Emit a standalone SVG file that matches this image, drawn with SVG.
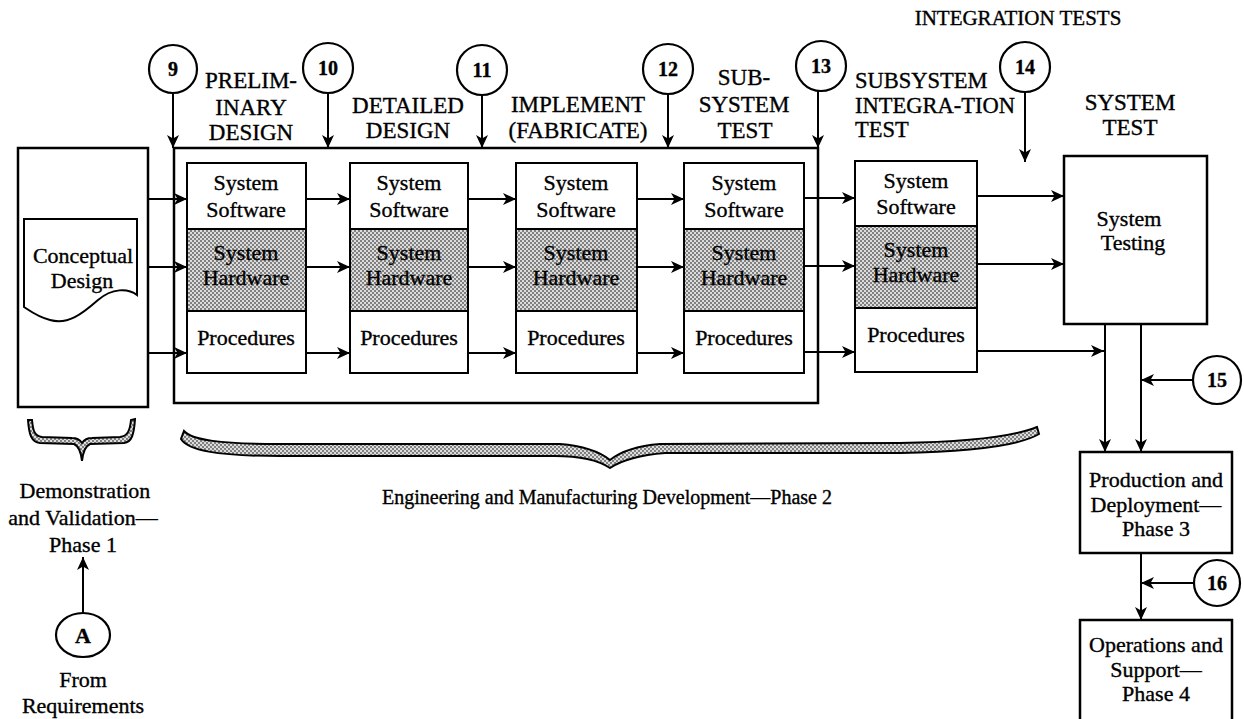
<svg xmlns="http://www.w3.org/2000/svg" width="1244" height="719" viewBox="0 0 1244 719">
<defs>
<pattern id="dots" width="4" height="4" patternUnits="userSpaceOnUse">
<rect width="4" height="4" fill="#dcdcdc"/>
<circle cx="1" cy="1" r="0.9" fill="#555"/>
<circle cx="3" cy="3" r="0.9" fill="#555"/>
</pattern>
<marker id="ah" markerWidth="14" markerHeight="12" refX="13" refY="6" orient="auto" markerUnits="userSpaceOnUse">
<path d="M0,0 L13,6 L0,12 L3.5,6 Z" fill="#000"/>
</marker>
</defs>
<style>
text{font-family:"Liberation Serif","Times New Roman",serif;fill:#000;stroke:#000;stroke-width:0.35}
.bx{font-size:22px;text-anchor:middle}
.hd{font-size:23px;text-anchor:middle}
.hl{font-size:23px}
.num{font-size:20px;font-weight:bold;text-anchor:middle}
.cell{fill:#fff;stroke:#000;stroke-width:2}
.hw{fill:url(#dots);stroke:#000;stroke-width:2}
.frame{fill:none;stroke:#000;stroke-width:2.5}
.circ{fill:#fff;stroke:#000;stroke-width:2.2}
.ln{fill:none;stroke:#000;stroke-width:2}
.arr{fill:none;stroke:#000;stroke-width:2;marker-end:url(#ah)}
.brace{fill:url(#dots);stroke:#000;stroke-width:2}
</style>
<rect width="1244" height="719" fill="#fff"/>

<!-- Frame around development stages -->
<rect id="devFrame" class="frame" x="174" y="148" width="644" height="255"/>

<g id="conceptual">
<rect class="frame" x="18" y="148" width="130" height="259"/>
<path class="ln" d="M24,219 H137 V295 C128,288 112,288 98,300 C82,314 68,325 50,320 C38,317 30,311 24,307 Z" fill="#fff"/>
<text class="bx" x="83" y="263">Conceptual</text>
<text class="bx" x="82" y="288">Design</text>
</g>

<g id="col1">
<rect class="cell" x="187" y="163" width="119" height="66"/>
<rect class="hw" x="187" y="229" width="119" height="82"/>
<rect class="cell" x="187" y="311" width="119" height="62"/>
<text class="bx" x="246" y="190">System</text><text class="bx" x="246" y="217">Software</text>
<text class="bx" x="246" y="260">System</text><text class="bx" x="246" y="285">Hardware</text>
<text class="bx" x="246" y="345">Procedures</text>
</g>
<g id="col2">
<rect class="cell" x="350" y="163" width="118" height="66"/>
<rect class="hw" x="350" y="229" width="118" height="82"/>
<rect class="cell" x="350" y="311" width="118" height="62"/>
<text class="bx" x="409" y="190">System</text><text class="bx" x="409" y="217">Software</text>
<text class="bx" x="409" y="260">System</text><text class="bx" x="409" y="285">Hardware</text>
<text class="bx" x="409" y="345">Procedures</text>
</g>
<g id="col3">
<rect class="cell" x="516" y="163" width="121" height="66"/>
<rect class="hw" x="516" y="229" width="121" height="82"/>
<rect class="cell" x="516" y="311" width="121" height="62"/>
<text class="bx" x="576" y="190">System</text><text class="bx" x="576" y="217">Software</text>
<text class="bx" x="576" y="260">System</text><text class="bx" x="576" y="285">Hardware</text>
<text class="bx" x="576" y="345">Procedures</text>
</g>
<g id="col4">
<rect class="cell" x="684" y="163" width="120" height="66"/>
<rect class="hw" x="684" y="229" width="120" height="82"/>
<rect class="cell" x="684" y="311" width="120" height="62"/>
<text class="bx" x="744" y="190">System</text><text class="bx" x="744" y="217">Software</text>
<text class="bx" x="744" y="260">System</text><text class="bx" x="744" y="285">Hardware</text>
<text class="bx" x="744" y="345">Procedures</text>
</g>
<g id="col5">
<rect class="cell" x="855" y="161" width="122" height="65"/>
<rect class="hw" x="855" y="226" width="122" height="82"/>
<rect class="cell" x="855" y="308" width="122" height="64"/>
<text class="bx" x="916" y="188">System</text><text class="bx" x="916" y="214">Software</text>
<text class="bx" x="916" y="257">System</text><text class="bx" x="916" y="282">Hardware</text>
<text class="bx" x="916" y="342">Procedures</text>
</g>

<g id="systemTesting">
<rect class="frame" x="1064" y="156" width="143" height="168"/>
<text class="bx" x="1129" y="226">System</text>
<text class="bx" x="1133" y="250">Testing</text>
</g>
<g id="production">
<rect class="frame" x="1080" y="452" width="152" height="101"/>
<text class="bx" x="1156" y="487">Production and</text>
<text class="bx" x="1156" y="512">Deployment—</text>
<text class="bx" x="1156" y="536">Phase 3</text>
</g>
<g id="operations">
<rect class="frame" x="1080" y="620" width="152" height="104"/>
<text class="bx" x="1156" y="652">Operations and</text>
<text class="bx" x="1156" y="677">Support—</text>
<text class="bx" x="1156" y="701">Phase 4</text>
</g>

<g id="circles">
<g id="c9"><circle class="circ" cx="173" cy="69" r="24"/><text class="num" x="173" y="76">9</text></g>
<g id="c10"><circle class="circ" cx="328" cy="68" r="25"/><text class="num" x="328" y="75">10</text></g>
<g id="c11"><circle class="circ" cx="482" cy="70" r="25"/><text class="num" x="482" y="77">11</text></g>
<g id="c12"><circle class="circ" cx="668" cy="69" r="25"/><text class="num" x="668" y="76">12</text></g>
<g id="c13"><circle class="circ" cx="821" cy="66" r="25"/><text class="num" x="821" y="73">13</text></g>
<g id="c14"><circle class="circ" cx="1025" cy="67" r="25"/><text class="num" x="1025" y="74">14</text></g>
<g id="c15"><circle class="circ" cx="1217" cy="380" r="24"/><text class="num" x="1217" y="387">15</text></g>
<g id="c16"><circle class="circ" cx="1217" cy="583" r="23"/><text class="num" x="1217" y="590">16</text></g>
<g id="cA"><ellipse class="circ" cx="83" cy="635" rx="27" ry="22"/><text class="num" x="83" y="643" style="font-size:22px">A</text></g>
</g>

<g id="labels">
<text class="hd" x="251" y="88">PRELIM-</text>
<text class="hd" x="251" y="115">INARY</text>
<text class="hd" x="251" y="140">DESIGN</text>
<text class="hd" x="408" y="113">DETAILED</text>
<text class="hd" x="408" y="138">DESIGN</text>
<text class="hd" x="578" y="112">IMPLEMENT</text>
<text class="hd" x="578" y="138">(FABRICATE)</text>
<text class="hd" x="744" y="85">SUB-</text>
<text class="hd" x="744" y="112">SYSTEM</text>
<text class="hd" x="745" y="138">TEST</text>
<text class="hl" x="855" y="88" style="font-size:22.5px">SUBSYSTEM</text>
<text class="hl" x="855" y="113" style="font-size:22.5px">INTEGRA-TION</text>
<text class="hl" x="855" y="137" style="font-size:22.5px">TEST</text>
<text class="hd" x="1130" y="110">SYSTEM</text>
<text class="hd" x="1130" y="135">TEST</text>
<text class="hd" x="1018" y="25" style="font-size:21px">INTEGRATION TESTS</text>
<text class="bx" x="607" y="504" style="font-size:20px">Engineering and Manufacturing Development—Phase 2</text>
<text class="bx" x="85" y="498">Demonstration</text>
<text class="bx" x="83" y="525">and Validation—</text>
<text class="bx" x="83" y="552">Phase 1</text>
<text class="bx" x="83" y="687">From</text>
<text class="bx" x="83" y="713">Requirements</text>
</g>

<g id="braces">
<path class="brace" d="M28,420 C29,434 31,442 40,443 L74,444 C79,446 81,452 82,461 C83,452 85,446 90,444 L124,443 C132,442 134,434 135,419 L131,420 C130,430 128,436 120,437 L92,438 C87,438 84,440 82,443 C80,440 77,438 72,438 L42,437 C34,436 33,430 32,420 Z"/>
<path class="brace" d="M184,431 C192,440 220,444 280,444 L560,444 C585,446 600,452 610,460 C620,452 635,446 660,444 L900,443 C960,442 1010,438 1037,427 L1039,434 C1015,448 960,452 900,453 L665,453 C640,455 622,460 610,468 C598,460 580,456 555,456 L280,456 C215,456 188,450 181,439 Z"/>
</g>

<g id="connectors">
<line class="arr" x1="173" y1="93" x2="173" y2="148"/>
<line class="arr" x1="328" y1="93" x2="328" y2="148"/>
<line class="arr" x1="482" y1="95" x2="482" y2="148"/>
<line class="arr" x1="668" y1="94" x2="668" y2="148"/>
<line class="arr" x1="818" y1="91" x2="818" y2="148"/>
<line class="arr" x1="1025" y1="92" x2="1025" y2="162"/>
<line class="arr" x1="148" y1="199" x2="187" y2="199"/>
<line class="arr" x1="148" y1="267" x2="187" y2="267"/>
<line class="arr" x1="148" y1="353" x2="187" y2="353"/>
<line class="arr" x1="306" y1="199" x2="350" y2="199"/>
<line class="arr" x1="306" y1="267" x2="350" y2="267"/>
<line class="arr" x1="306" y1="353" x2="350" y2="353"/>
<line class="arr" x1="468" y1="199" x2="516" y2="199"/>
<line class="arr" x1="468" y1="267" x2="516" y2="267"/>
<line class="arr" x1="468" y1="353" x2="516" y2="353"/>
<line class="arr" x1="637" y1="199" x2="684" y2="199"/>
<line class="arr" x1="637" y1="267" x2="684" y2="267"/>
<line class="arr" x1="637" y1="353" x2="684" y2="353"/>
<line class="arr" x1="804" y1="198" x2="855" y2="198"/>
<line class="arr" x1="804" y1="266" x2="855" y2="266"/>
<line class="arr" x1="804" y1="352" x2="855" y2="352"/>
<line class="arr" x1="977" y1="196" x2="1064" y2="196"/>
<line class="arr" x1="977" y1="264" x2="1064" y2="264"/>
<line class="arr" x1="977" y1="351" x2="1104" y2="351"/>
<line class="arr" x1="1105" y1="324" x2="1105" y2="452"/>
<line class="arr" x1="1141" y1="324" x2="1141" y2="452"/>
<line class="arr" x1="1193" y1="380" x2="1141" y2="380"/>
<line class="arr" x1="1141" y1="553" x2="1141" y2="620"/>
<line class="arr" x1="1194" y1="583" x2="1141" y2="583"/>
<line class="arr" x1="83" y1="613" x2="83" y2="557"/>
</g>
</svg>
